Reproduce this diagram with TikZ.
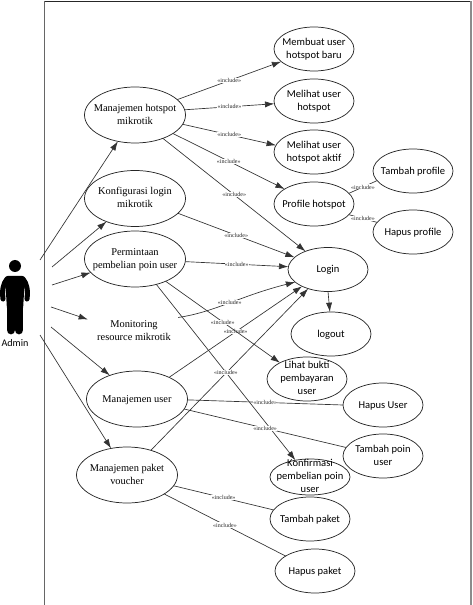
\documentclass[tikz,border=0pt]{standalone}
\usepackage{fontspec}
\setmainfont{Liberation Serif}
\newfontfamily\lat{Carlito}
\usetikzlibrary{shapes.geometric,arrows.meta}
\newcommand{\inner}[1]{\makebox[0pt]{\smash{\raisebox{-2.6pt}{\setlength{\tabcolsep}{0pt}\begin{tabular}{c}#1\end{tabular}}}}}
\newcommand{\se}[1]{\inner{\fontsize{7.8pt}{9.6pt}\selectfont\begin{tabular}{c}#1\end{tabular}}}
\newcommand{\sa}[1]{\inner{\lat\fontsize{7.9pt}{9.7pt}\selectfont\begin{tabular}{c}#1\end{tabular}}}
\tikzset{
  uc/.style={ellipse,draw=black!85,line width=.55pt,inner sep=0pt,outer sep=0pt,minimum width=60pt,minimum height=33pt},
  ucbig/.style={uc,minimum width=75.75pt,minimum height=42pt},
  ucghost/.style={ucbig,draw=none},
  ucflat/.style={uc,minimum height=27pt},
  act/.style={line width=.5pt,draw=black!80,-{Latex[length=7pt,width=4.6pt]}},
  inc/.style={line width=.5pt,draw=black!80,-{Latex[length=7pt,width=4.6pt]}},
  incplain/.style={line width=.5pt,draw=black!80},
  lbl/.style={fill=white,inner sep=.3pt,font=\fontsize{4.5pt}{5pt}\selectfont,text=black!85},
  limb/.style={line cap=round,black}
}
\begin{document}
\begin{tikzpicture}[x=.75pt,y=-.75pt]
\useasboundingbox (0,0) rectangle (472,605);
% frame
\draw[black!85,line width=.7pt] (44,1) -- (471,1);
\draw[black!60,line width=.7pt] (44,1) -- (44,605);
\draw[black!45,line width=.8pt] (471,1) -- (471,605);
% actor
\fill[black] (15,266) circle (6);
\fill[black,rounded corners=2pt] (5,276) -- (25,276) -- (23,310) -- (7,310) -- cycle;
\draw[limb,line width=3.8pt] (7,279) .. controls (3,284) and (2,290) .. (3,299);
\draw[limb,line width=3.8pt] (23,279) .. controls (27,284) and (28,290) .. (27,299);
\draw[limb,line width=6.6pt] (11,300) -- (11,330);
\draw[limb,line width=6.6pt] (19,300) -- (19,330);
\node[font=\lat\fontsize{7.6pt}{9pt}\selectfont,inner sep=0pt] (admin) at (15,343) {Admin};
% free ends at the actor
\coordinate (a1) at (40,260);
\coordinate (a2) at (52,267);
\coordinate (a3) at (52,285);
\coordinate (a4) at (51,307);
\coordinate (a5) at (51,327);
\coordinate (a6) at (40,335);
% use cases left
\node[ucbig] (hot) at (135,115) {\se{Manajemen hotspot\\mikrotik}};
\node[ucbig] (kon) at (135,198.5) {\se{Konfigurasi login\\mikrotik}};
\node[ucbig] (per) at (135,259) {\se{Permintaan\\pembelian poin user}};
\node[ucghost] (mon) at (134,331) {\se{Monitoring\\resource mikrotik}};
\node[ucbig] (usr) at (137,399) {\se{Manajemen user}};
\node[ucbig] (pak) at (127,475) {\se{Manajemen paket\\voucher}};
% use cases right
\node[uc] (mem) at (314,49) {\sa{Membuat user\\hotspot baru}};
\node[uc] (mel) at (314,101) {\sa{Melihat user\\hotspot}};
\node[uc] (akt) at (314,152) {\sa{Melihat user\\hotspot aktif}};
\node[uc] (pro) at (314,204) {\sa{Profile hotspot}};
\node[uc] (tpr) at (413,171) {\sa{Tambah profile}};
\node[uc] (hpr) at (413,232) {\sa{Hapus profile}};
\node[uc] (log) at (328,269.5) {\sa{Login}};
\node[uc] (out) at (331,334) {\sa{logout}};
\node[uc] (lih) at (307,379) {\sa{Lihat bukti\\pembayaran\\user}};
\node[uc] (hus) at (383,405) {\sa{Hapus User}};
\node[uc] (tpo) at (383,456) {\sa{Tambah poin\\user}};
\node[ucflat] (kfm) at (310,477) {\sa{Konfirmasi\\pembelian poin\\user}};
\node[uc] (tpk) at (310,519) {\sa{Tambah paket}};
\node[uc] (hpk) at (315,571) {\sa{Hapus paket}};
% actor links
\draw[act] (a1) -- (hot.237);
\draw[act] (a2) -- (kon.219);
\draw[act] (a3) -- (per.197);
\draw[act] (a4) -- (mon.166);
\draw[act] (a5) -- (usr.139);
\draw[act] (a6) -- (pak.121);
% includes with arrowheads
\draw[inc] (hot.20) -- node[lbl]{«include»} (mem.201);
\draw[inc] (hot.6) -- node[lbl]{«include»} (mel.184);
\draw[inc] (hot.-11) -- node[lbl]{«include»} (akt.170);
\draw[inc] (hot.-26) -- node[lbl]{«include»} (pro.153);
\draw[inc] (hot.-40) -- node[lbl]{«include»} (log.141);
\draw[inc] (kon.-19) -- node[lbl]{«include»} (log.160);
\draw[inc] (per.-3) -- node[lbl]{«include»} (log.176);
\draw[inc] (mon.17) .. controls (215,312) and (240,296) .. node[lbl]{«include»} (log.201);
\draw[inc] (usr.34) -- node[lbl]{«include»} (log.213);
\draw[inc] (pak.46) -- (log.224);
\draw[inc] (per.-36) -- node[lbl]{«include»} (lih.149);
\draw[inc] (per.-50) -- node[lbl]{«include»} (kfm.131);
\draw[inc] (log.-90) -- (out.93);
% includes without visible heads
\draw[incplain] (usr.-1) -- node[lbl]{«include»} (hus.180);
\draw[incplain] (usr.-12) -- node[lbl]{«include»} (tpo.167);
\draw[incplain] (pak.-13) -- node[lbl]{«include»} (tpk.166);
\draw[incplain] (pak.-27) -- node[lbl]{«include»} (hpk.153);
\draw[incplain] (pro.17) -- node[lbl]{«include»} (tpr.195);
\draw[incplain] (pro.-17) -- node[lbl]{«include»} (hpr.165);
\end{tikzpicture}
\end{document}
